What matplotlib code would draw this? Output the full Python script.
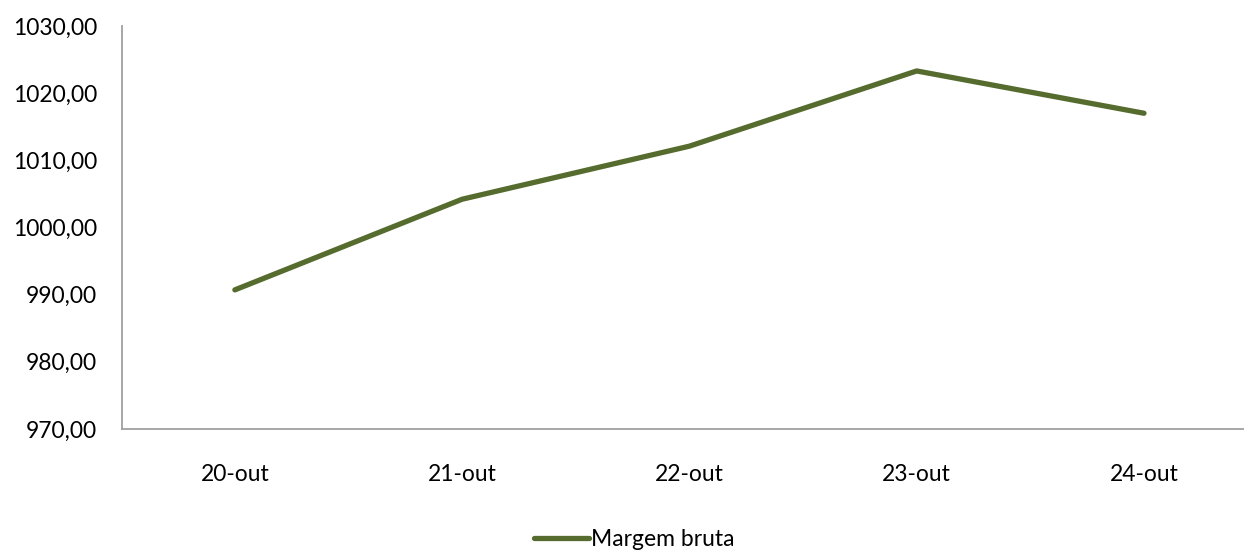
import matplotlib
matplotlib.use("Agg")
import matplotlib.pyplot as plt

# dados
datas = ["20-out", "21-out", "22-out", "23-out", "24-out"]
margem = [990.7, 1004.2, 1012.1, 1023.3, 1017.0]
yticks = [970, 980, 990, 1000, 1010, 1020, 1030]

plt.rcParams['font.family'] = ['Lato', 'DejaVu Sans']

fig = plt.figure(figsize=(12.44, 5.52), dpi=100)
ax = fig.add_axes([0.098, 0.223, 0.902, 0.730])

x = list(range(len(datas)))
ax.plot(x, margem, color="#566B2E", lw=3.8, solid_capstyle="round",
        solid_joinstyle="round", label="Margem bruta")

ax.set_ylim(970, 1030)
ax.set_xlim(-0.497, 4.44)
ax.set_yticks(yticks)
ax.set_yticklabels([f"{v:.2f}".replace(".", ",") for v in yticks])
ax.set_xticks(x)
ax.set_xticklabels(datas)
ax.tick_params(axis="both", length=0, labelsize=16.5, colors="#000000")
ax.tick_params(axis="y", pad=18)
ax.tick_params(axis="x", pad=25)

for s in ["top", "right"]:
    ax.spines[s].set_visible(False)
for s in ["left", "bottom"]:
    ax.spines[s].set_color("#A0A0A0")
    ax.spines[s].set_linewidth(1.3)

fig.legend(loc="center", bbox_to_anchor=(0.51, 0.022), frameon=False,
           fontsize=16.5, handlelength=2.4, handletextpad=0.1)

fig.savefig("out.png", dpi=100)
